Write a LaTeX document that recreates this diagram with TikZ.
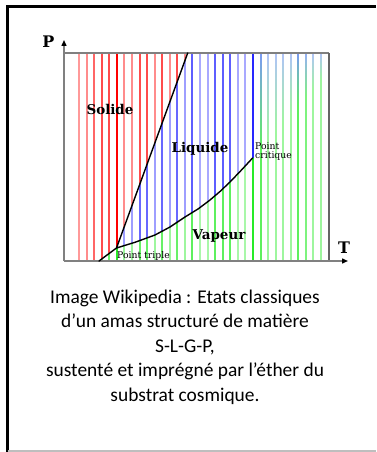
\documentclass[tikz,border=0pt]{standalone}
\usepackage{fontspec}
\setmainfont{Carlito}
\newfontfamily\lblfont{DejaVu Serif}
\usetikzlibrary{arrows.meta}
\definecolor{solidred}{RGB}{255,0,0}
\definecolor{liqblue}{RGB}{40,40,255}
\definecolor{vapgreen}{RGB}{40,235,40}
\definecolor{scblue}{RGB}{80,120,240}
\definecolor{axisgray}{RGB}{128,128,128}
\definecolor{framegray}{RGB}{190,190,190}
\tikzset{
  vline/.style={line width=1.6bp},
  axisline/.style={draw=axisgray, line width=1.4bp},
  axisarrow/.style={axisline, -{Triangle[length=6bp,width=5bp,color=black]}},
  phaselbl/.style={font=\lblfont\bfseries\fontsize{13.5}{14}\selectfont, inner sep=0pt, anchor=base},
  axislbl/.style={font=\lblfont\bfseries\fontsize{16}{17}\selectfont, inner sep=0pt, anchor=base},
  ptlbl/.style={font=\lblfont\fontsize{9.3}{10}\selectfont, inner sep=0pt, anchor=base west},
  captionline/.style={font=\fontsize{19.5}{24.5}\selectfont, inner sep=0pt, anchor=base},
  phasecurve/.style={black, line width=1.4bp, line join=round, line cap=round},
}
\def\linelist{0/40,1/45,2/60,3/70,4/70,5/100,6/45,7/45,8/70,9/70,10/45,11/70,12/45,13/70,14/45,15/75,16/40,17/40,18/75,19/75,20/75,21/40,22/40,23/100}
\def\sclist{24/75,25/45,26/45,27/45,28/45,29/75,30/60,31/45,32/45}
\begin{document}
\begin{tikzpicture}[x=1bp,y=-1bp]
\useasboundingbox (0,0) rectangle (376,452);
\fill[white] (0,0) rectangle (376,452);
% key points
\coordinate (O) at (64,261);
\coordinate (Ptip) at (64,40);
\coordinate (Ttip) at (348,261);
\coordinate (boxtl) at (64,53);
\coordinate (boxtr) at (329,53);
\coordinate (boxbr) at (329,261);
\coordinate (tp) at (116.5,248);
\coordinate (cp) at (252.6,158);
\coordinate (mtop) at (187.7,53);
\coordinate (sbot) at (99,261);
\coordinate (v1) at (135,242.3);
\coordinate (v2) at (155,235);
\coordinate (v3) at (170,227);
\coordinate (v4) at (185,217);
\coordinate (v5) at (198,209);
\coordinate (v6) at (210,200);
\coordinate (v7) at (220,191.5);
\coordinate (v8) at (230,182);
\coordinate (v9) at (241,170.5);
\coordinate (lqtr) at (254.5,53);
\coordinate (lqbr) at (254.5,158);
\coordinate (vpbr) at (254.5,261);
% solid region
\begin{scope}
\clip (boxtl) -- (mtop) -- (tp) -- (sbot) -- (O) -- cycle;
\foreach \k/\op in \linelist {
  \pgfmathsetmacro\xx{round(79+7.5625*\k)}
  \pgfmathsetmacro\lw{ifthenelse(\op==100,2.4,1.6)}
  \draw[vline, line width=\lw bp, color=solidred!\op!white] (\xx,53) -- (\xx,261);
}
\end{scope}
% liquid region
\begin{scope}
\clip (mtop) -- (lqtr) -- (lqbr) -- (cp) -- (v9) -- (v8) -- (v7) -- (v6) -- (v5) -- (v4) -- (v3) -- (v2) -- (v1) -- (tp) -- cycle;
\foreach \k/\op in \linelist {
  \pgfmathsetmacro\xx{round(79+7.5625*\k)}
  \pgfmathsetmacro\lw{ifthenelse(\op==100,2.4,1.6)}
  \draw[vline, line width=\lw bp, color=liqblue!\op!white] (\xx,53) -- (\xx,261);
}
\end{scope}
% vapour region
\begin{scope}
\clip (sbot) -- (tp) -- (v1) -- (v2) -- (v3) -- (v4) -- (v5) -- (v6) -- (v7) -- (v8) -- (v9) -- (cp) -- (lqbr) -- (vpbr) -- cycle;
\foreach \k/\op in \linelist {
  \pgfmathsetmacro\xx{round(79+7.5625*\k)}
  \pgfmathsetmacro\lw{ifthenelse(\op==100,2.4,1.6)}
  \draw[vline, line width=\lw bp, color=vapgreen!\op!white] (\xx,53) -- (\xx,261);
}
\end{scope}
% supercritical lines
\foreach \k/\op in \sclist {
  \pgfmathsetmacro\xx{round(79+7.5625*\k)}
  \pgfmathsetmacro\yb{158-(\xx-252.9)*1.15}
  \shade[top color=scblue!\op!white, bottom color=vapgreen!\op!white] (\xx-0.8,53) rectangle (\xx+0.8,\yb);
  \draw[vline, color=vapgreen!\op!white] (\xx,\yb) -- (\xx,261);
}
% box and axes
\draw[axisline] (boxtl) -- (boxtr);
\draw[axisline, draw=axisgray!80!black] (boxtr) -- (boxbr);
\draw[axisarrow] (O) -- (Ptip);
\draw[axisarrow] (O) -- (Ttip);
% phase curves
\draw[phasecurve] (sbot) -- (tp) -- (mtop);
\draw[phasecurve] (tp) -- (v1) -- (v2) -- (v3) -- (v4) -- (v5) -- (v6) -- (v7) -- (v8) -- (v9) -- (cp);
% labels
\node[axislbl] (plbl) at (48.3,48) {P};
\node[axislbl] (tlbl) at (344,253) {T};
\node[phaselbl] (solide) at (110,115) {Solide};
\node[phaselbl] (liquide) at (200,153) {Liquide};
\node[phaselbl] (vapeur) at (219,239) {Vapeur};
\node[ptlbl] (pc1) at (255,149.5) {Point};
\node[ptlbl] (pc2) at (255,158.5) {critique};
\node[ptlbl] (ptr) at (117,258.5) {Point triple};
% caption
\node[captionline] (cap1) at (185,303.3) {Image Wikipedia : Etats classiques};
\node[captionline] (cap2) at (185,327.8) {d’un amas structuré de matière};
\node[captionline] (cap3) at (185,352.3) {S-L-G-P,};
\node[captionline] (cap4) at (185,376.8) {sustenté et imprégné par l’éther du};
\node[captionline] (cap5) at (185,401.3) {substrat cosmique.};
% frame
\coordinate (fbl) at (7.5,452);
\coordinate (ftl) at (7.5,6.5);
\coordinate (ftr) at (376,6.5);
\coordinate (gbl) at (7.5,451);
\coordinate (gbr) at (376,451);
\draw[black, line width=3bp] (fbl) -- (ftl) -- (ftr);
\draw[framegray, line width=1.5bp] (gbl) -- (gbr);
\end{tikzpicture}
\end{document}
